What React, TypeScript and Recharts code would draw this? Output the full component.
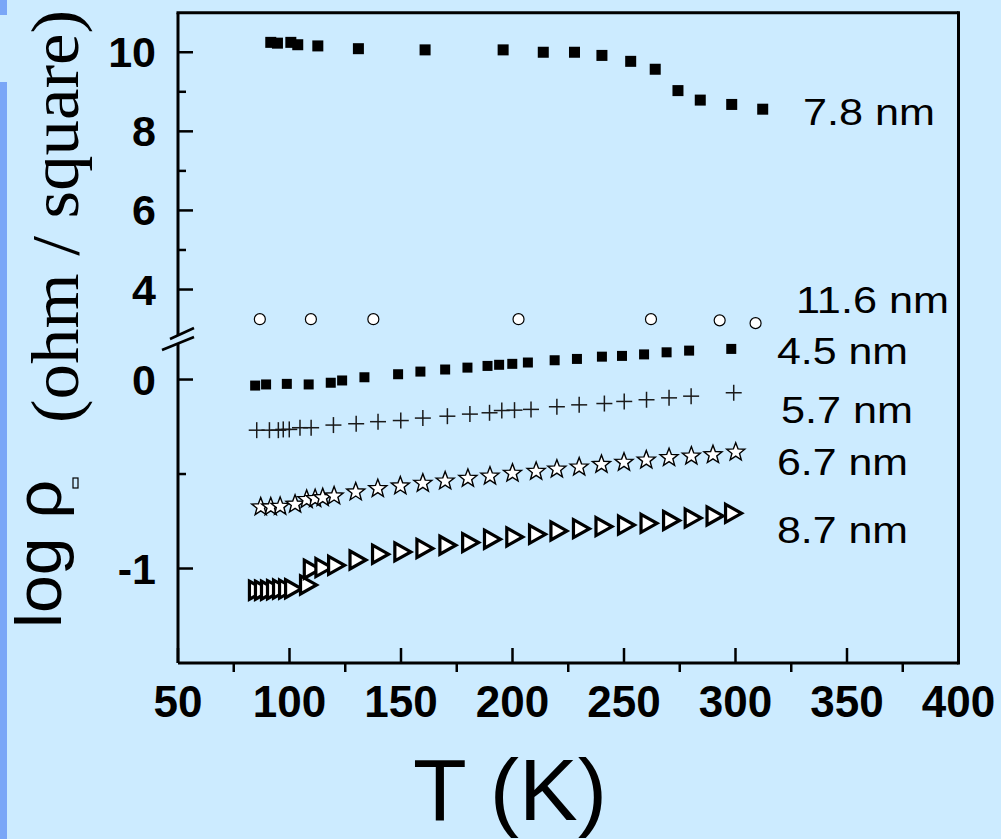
import React from "react";
import { ScatterChart, Scatter, XAxis, YAxis } from "recharts";

const W = 1001;
const H = 839;
const BG = "#CCEBFF";
const STRIP = "#7AA6F7";
const SANS = "Liberation Sans, Arial, sans-serif";
const SERIF = "Liberation Serif, DejaVu Serif, serif";

// temperatures (K) and log sheet resistance per film thickness
const t78 = [91.6, 94.6, 100.6, 103.7, 112.7, 130.9, 160.8, 195.8, 213.8, 227.8, 240.1, 253.0, 264.0, 274.2, 284.2, 298.3, 312.2];
const v78 = [10.25, 10.23, 10.25, 10.19, 10.16, 10.09, 10.06, 10.06, 10.0, 10.0, 9.92, 9.77, 9.57, 9.03, 8.79, 8.68, 8.56];

const t116 = [86.7, 109.6, 137.6, 202.7, 262.1, 292.9, 309.0];
const v116 = [3.25, 3.25, 3.25, 3.25, 3.25, 3.22, 3.15];

const t45 = [84.6, 89.5, 98.8, 108.6, 118.5, 123.6, 133.6, 148.7, 158.7, 169.8, 179.8, 188.8, 194.0, 199.9, 206.9, 218.9, 228.9, 240.1, 249.1, 259.0, 269.1, 279.2, 298.1];
const v45 = [-0.032, -0.026, -0.023, -0.026, -0.017, -0.005, 0.012, 0.028, 0.042, 0.053, 0.063, 0.072, 0.078, 0.083, 0.09, 0.102, 0.109, 0.121, 0.125, 0.133, 0.144, 0.153, 0.162];

const t57 = [85.3, 91.0, 95.0, 97.2, 99.9, 104.7, 109.7, 119.7, 129.9, 139.7, 149.9, 159.8, 170.8, 180.9, 189.7, 195.2, 200.9, 208.3, 219.9, 229.9, 241.2, 250.1, 260.1, 270.2, 280.1, 299.2];
const v57 = [-0.268, -0.268, -0.268, -0.264, -0.264, -0.255, -0.255, -0.241, -0.234, -0.223, -0.217, -0.204, -0.194, -0.183, -0.176, -0.164, -0.162, -0.158, -0.144, -0.134, -0.127, -0.116, -0.107, -0.097, -0.088, -0.07];

const t67 = [87.1, 91.6, 95.8, 102.5, 107.7, 111.5, 114.9, 120.0, 129.7, 139.6, 149.7, 159.8, 169.8, 180.0, 189.9, 200.0, 210.6, 219.9, 229.9, 239.9, 250.0, 260.0, 270.2, 280.2, 289.9, 300.1];
const v67 = [-0.669, -0.669, -0.666, -0.655, -0.63, -0.625, -0.62, -0.611, -0.59, -0.572, -0.558, -0.544, -0.532, -0.518, -0.506, -0.491, -0.481, -0.469, -0.458, -0.444, -0.433, -0.421, -0.408, -0.4, -0.393, -0.379];

const t87 = [85.4, 88.1, 90.8, 93.5, 96.2, 98.9, 101.6, 108.3, 110.0, 115.2, 120.9, 130.5, 140.6, 150.6, 160.5, 170.8, 181.0, 190.8, 200.8, 211.0, 220.6, 230.7, 240.8, 250.9, 261.0, 271.1, 280.8, 290.6, 298.9];
const v87 = [-1.115, -1.115, -1.115, -1.112, -1.109, -1.109, -1.107, -1.087, -1.004, -0.995, -0.983, -0.955, -0.924, -0.912, -0.894, -0.877, -0.863, -0.845, -0.833, -0.819, -0.801, -0.789, -0.778, -0.77, -0.761, -0.746, -0.733, -0.722, -0.708];

const xMajor = [50, 100, 150, 200, 250, 300, 350, 400];
const xMinor = [75, 125, 175, 225, 275, 325, 375];
const upperMajor = [4, 6, 8, 10];
const upperMinor = [5, 7, 9];
const lowerMajor = [-1, 0];
const lowerMinor = [-0.5];

const seriesLabels = [
  { text: "7.8 nm", x: 803, y: 125, w: 132 },
  { text: "11.6 nm", x: 796, y: 313, w: 153 },
  { text: "4.5 nm", x: 777, y: 364, w: 131 },
  { text: "5.7 nm", x: 781, y: 423, w: 132 },
  { text: "6.7 nm", x: 777, y: 475, w: 131 },
  { text: "8.7 nm", x: 777, y: 543, w: 131 },
];

const pts = (t: number[], v: number[]) => t.map((x, i) => ({ t: x, v: v[i] }));

const d78 = pts(t78, v78);
const d116 = pts(t116, v116);
const d45 = pts(t45, v45);
const d57 = pts(t57, v57);
const d67 = pts(t67, v67);
const d87 = pts(t87, v87);

const sortNum = (a: number[]) => [...a].sort((p, q) => p - q);

// marker shapes
const Square = (size: number) => (p: any) => (
  <rect x={p.cx - size / 2} y={p.cy - size / 2} width={size} height={size} fill="#000" />
);
const Circle = (p: any) => (
  <circle cx={p.cx} cy={p.cy} r={5.5} fill="#fff" stroke="#000" strokeWidth={1.2} />
);
const Cross = (p: any) => (
  <g stroke="#1a1a1a" strokeWidth={1.5}>
    <line x1={p.cx - 8} y1={p.cy} x2={p.cx + 8} y2={p.cy} />
    <line x1={p.cx} y1={p.cy - 8} x2={p.cx} y2={p.cy + 8} />
  </g>
);
const Star = (p: any) => {
  const ro = 9.5, ri = 4;
  const d: string[] = [];
  for (let k = 0; k < 10; k++) {
    const r = k % 2 === 0 ? ro : ri;
    const a = -Math.PI / 2 + (k * Math.PI) / 5;
    d.push(`${(p.cx + r * Math.cos(a)).toFixed(2)},${(p.cy + 1 + r * Math.sin(a)).toFixed(2)}`);
  }
  return <polygon points={d.join(" ")} fill="#fff" stroke="#000" strokeWidth={1.4} strokeLinejoin="miter" />;
};
const Triangle = (p: any) => (
  <polygon
    points={`${p.cx - 7.5},${p.cy - 9} ${p.cx + 8.5},${p.cy} ${p.cx - 7.5},${p.cy + 9}`}
    fill="#fff"
    stroke="#000"
    strokeWidth={3.2}
  />
);

const YTick = (major: number[]) => (props: any) => {
  const { x, y, payload } = props;
  const isMajor = major.includes(payload.value);
  return (
    <g>
      <line x1={x} y1={y} x2={x + (isMajor ? 15 : 8)} y2={y} stroke="#000" strokeWidth={2.5} />
      {isMajor && (
        <text x={x - 22} y={y + 15} textAnchor="end" fontFamily={SANS} fontWeight="bold" fontSize={43} fill="#000">
          {payload.value}
        </text>
      )}
    </g>
  );
};

const XTick = (props: any) => {
  const { x, y, payload } = props;
  const isMajor = xMajor.includes(payload.value);
  return (
    <g>
      {isMajor ? (
        <line x1={x} y1={y} x2={x} y2={y - 15} stroke="#000" strokeWidth={2.5} />
      ) : (
        <line x1={x} y1={y} x2={x} y2={y + 9} stroke="#000" strokeWidth={2.5} />
      )}
      {isMajor && (
        <text x={x} y={y + 54} textAnchor="middle" fontFamily={SANS} fontWeight="bold" fontSize={44} fill="#000">
          {payload.value}
        </text>
      )}
    </g>
  );
};

const axisLine = { stroke: "#000", strokeWidth: 3 };
const MARGIN_L = 78;
const MARGIN_R = 42.5;

export default function App() {
  return (
    <div style={{ position: "absolute", left: 0, top: 0, width: W, height: H, background: BG, overflow: "hidden" }}>
      <style>{"body{margin:0}"}</style>
      <div style={{ position: "absolute", left: 0, top: 0, width: 7, height: 15, background: STRIP }} />
      <div style={{ position: "absolute", left: 0, top: 82, width: 7, height: H - 82, background: STRIP }} />

      {/* upper segment of the broken axis */}
      <div style={{ position: "absolute", left: 0, top: 0 }}>
        <ScatterChart width={W} height={335} margin={{ top: 12.7, right: MARGIN_R, bottom: 0, left: MARGIN_L }}>
          <XAxis type="number" dataKey="t" domain={[50, 400]} hide />
          <YAxis
            type="number"
            dataKey="v"
            domain={[2.85, 11]}
            ticks={sortNum([...upperMajor, ...upperMinor])}
            interval={0}
            width={100}
            tickSize={0}
            tickMargin={0}
            tickLine={false}
            axisLine={axisLine}
            tick={YTick(upperMajor)}
          />
          <Scatter data={d78} shape={Square(11)} isAnimationActive={false} />
          <Scatter data={d116} shape={Circle} isAnimationActive={false} />
        </ScatterChart>
      </div>

      {/* lower segment */}
      <div style={{ position: "absolute", left: 0, top: 0 }}>
        <ScatterChart width={W} height={H} margin={{ top: 344, right: MARGIN_R, bottom: 116, left: MARGIN_L }}>
          <XAxis
            type="number"
            dataKey="t"
            domain={[50, 400]}
            ticks={sortNum([...xMajor, ...xMinor])}
            interval={0}
            height={60}
            tickSize={0}
            tickMargin={0}
            tickLine={false}
            axisLine={axisLine}
            tick={XTick}
          />
          <YAxis
            type="number"
            dataKey="v"
            domain={[-1.5, 0.188]}
            ticks={sortNum([...lowerMajor, ...lowerMinor])}
            interval={0}
            width={100}
            tickSize={0}
            tickMargin={0}
            tickLine={false}
            axisLine={axisLine}
            tick={YTick(lowerMajor)}
          />
          <Scatter data={d45} shape={Square(10)} isAnimationActive={false} />
          <Scatter data={d57} shape={Cross} isAnimationActive={false} />
          <Scatter data={d67} shape={Star} isAnimationActive={false} />
          <Scatter data={d87} shape={Triangle} isAnimationActive={false} />
        </ScatterChart>
      </div>

      {/* frame, axis break, titles and series labels */}
      <svg width={W} height={H} style={{ position: "absolute", left: 0, top: 0, pointerEvents: "none" }}>
        <line x1={176.5} y1={12.7} x2={958.5} y2={12.7} stroke="#000" strokeWidth={3} />
        <line x1={958.5} y1={11.2} x2={958.5} y2={664.5} stroke="#000" strokeWidth={3} />
        <line x1={170} y1={339} x2={194} y2={328} stroke="#000" strokeWidth={2.5} />
        <line x1={162} y1={350} x2={194} y2={337} stroke="#000" strokeWidth={2.5} />

        <text transform="translate(61,628) rotate(-90)" fontFamily={SANS} fontSize={64} fill="#000" textLength={148} lengthAdjust="spacingAndGlyphs">
          log ρ
        </text>
        <rect x={73} y={478} width={5} height={10} fill="none" stroke="#000" strokeWidth={1.2} />
        <text transform="translate(78,423) rotate(-90)" fontFamily={SERIF} fontSize={68} fill="#000" textLength={413} lengthAdjust="spacingAndGlyphs">
          (ohm / square)
        </text>

        <text x={510} y={820} textAnchor="middle" fontFamily={SANS} fontSize={88} fill="#000">
          T (K)
        </text>

        {seriesLabels.map((l) => (
          <text key={l.text} x={l.x} y={l.y} fontFamily={SANS} fontSize={37} fill="#000" textLength={l.w} lengthAdjust="spacingAndGlyphs">
            {l.text}
          </text>
        ))}
      </svg>
    </div>
  );
}
